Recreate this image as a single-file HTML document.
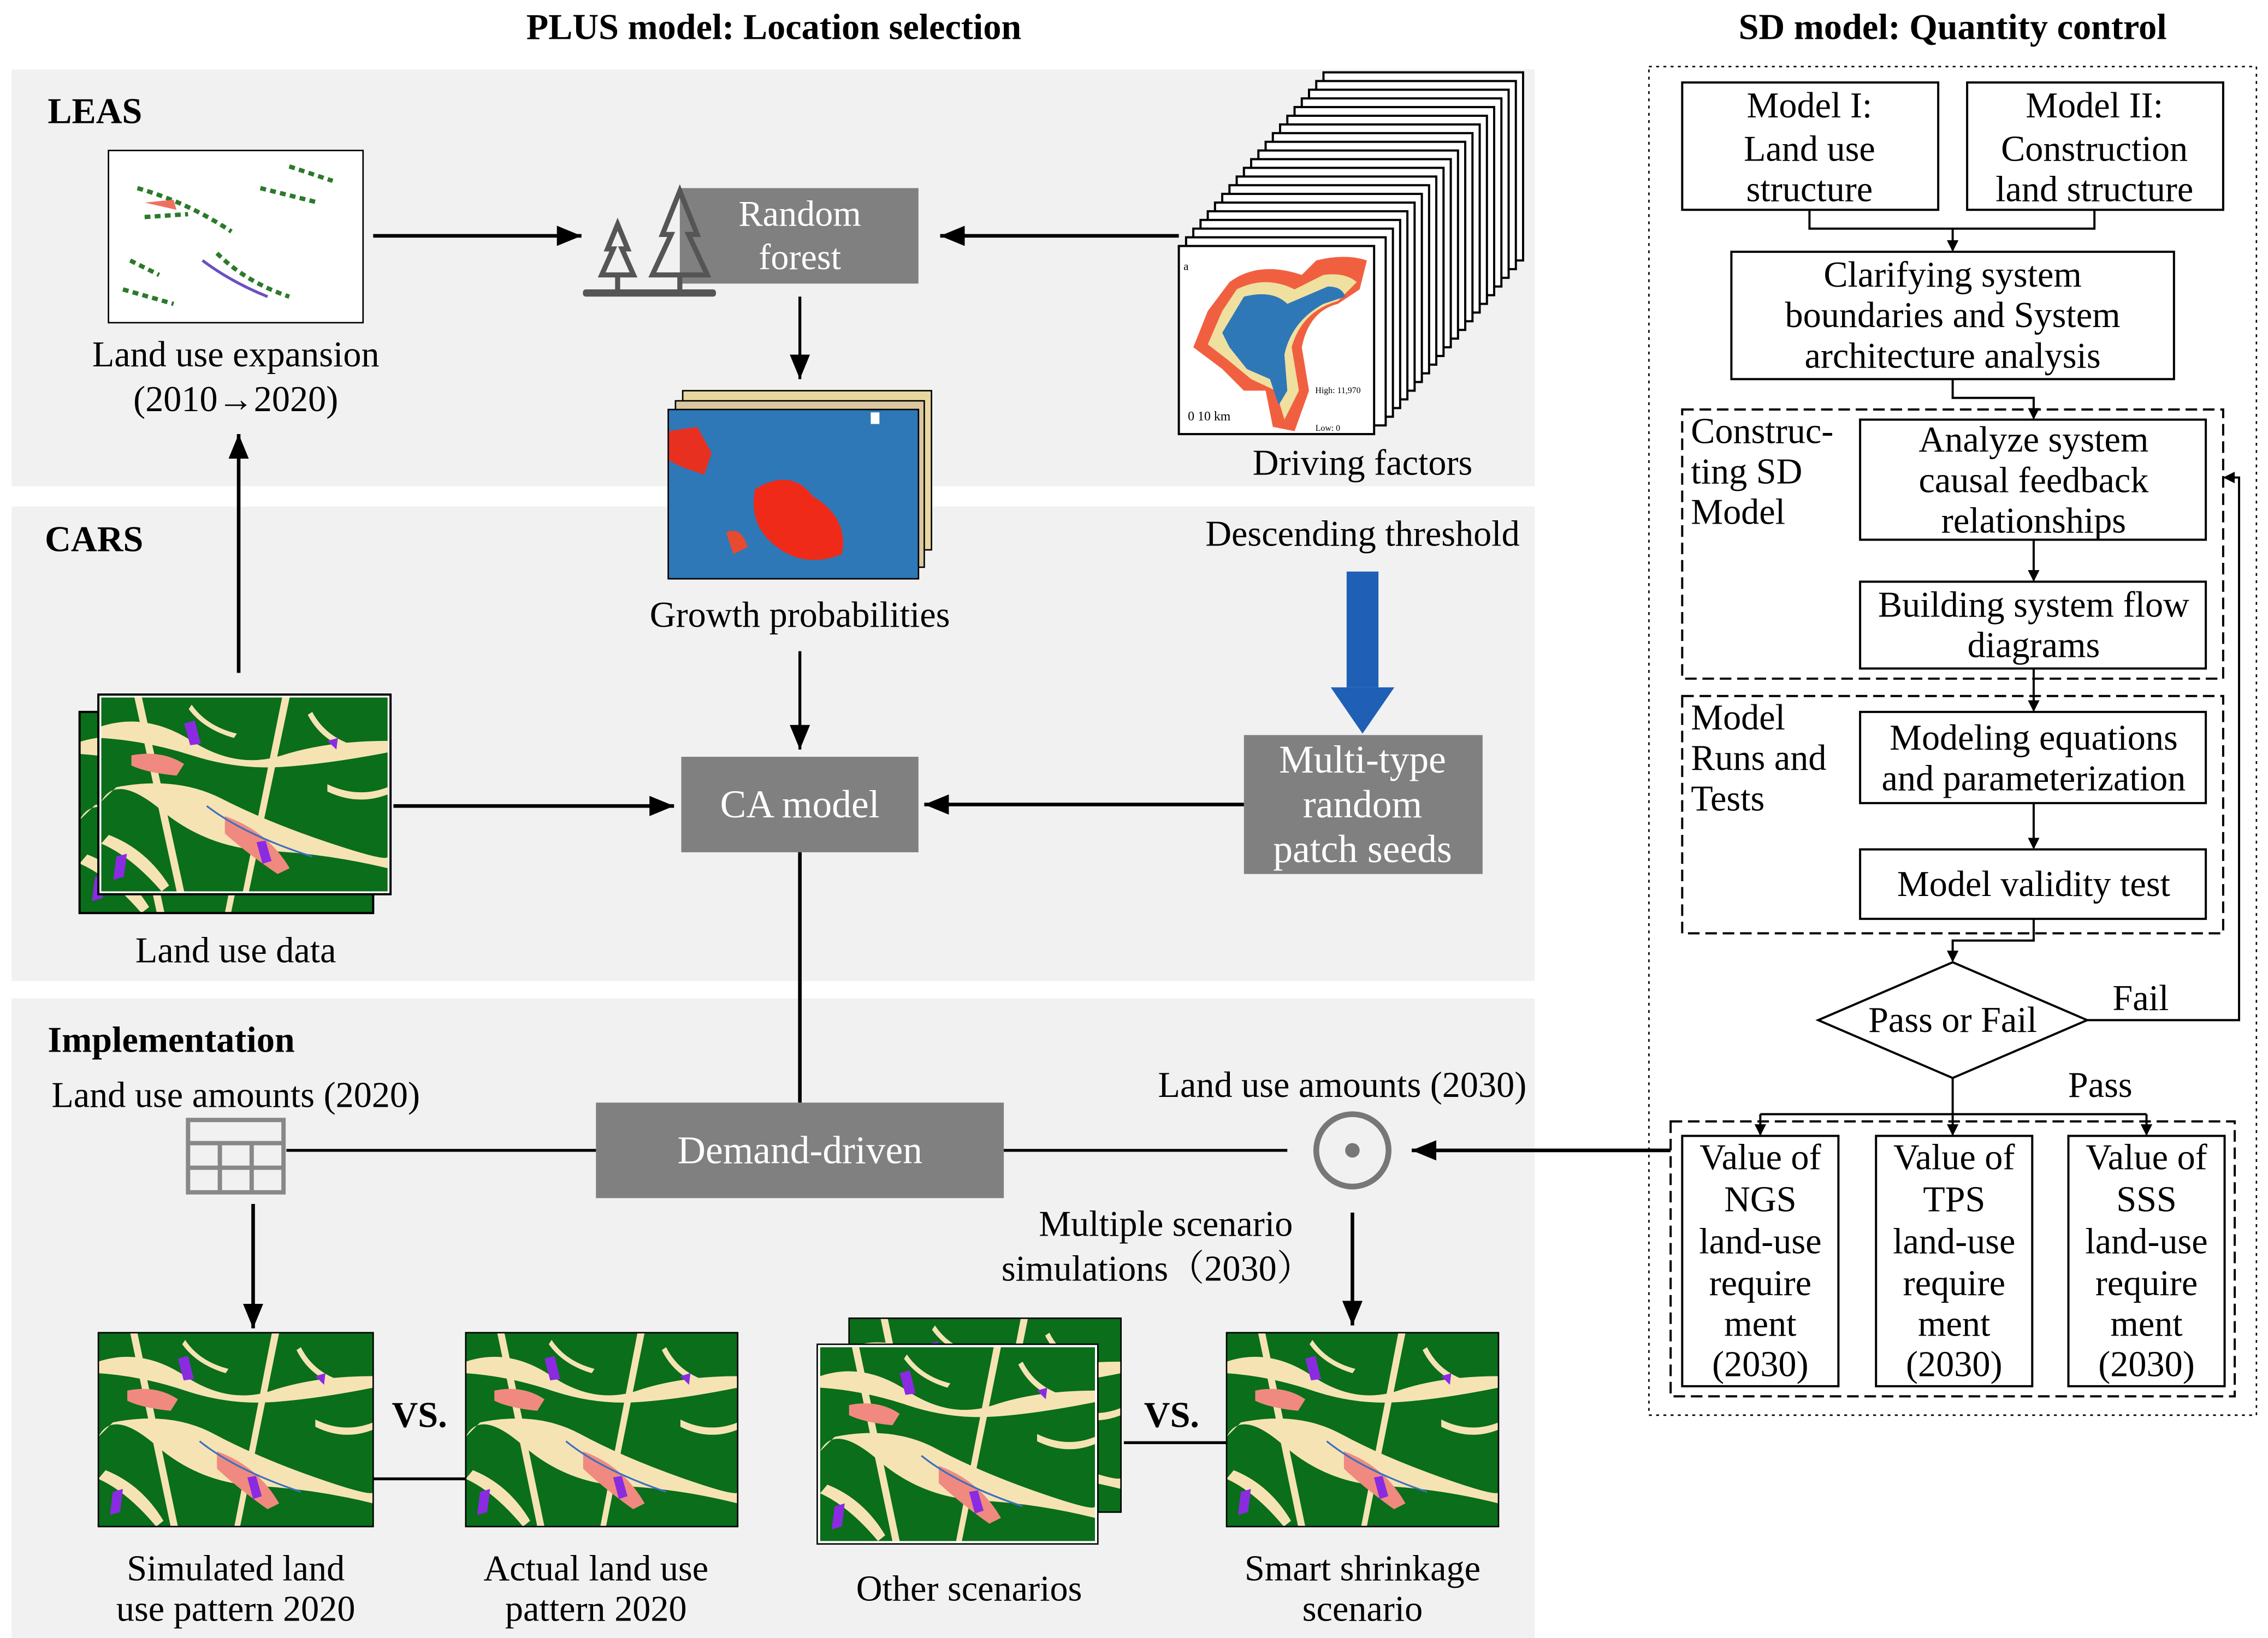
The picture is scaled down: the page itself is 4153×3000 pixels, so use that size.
<!DOCTYPE html>
<html><head><meta charset="utf-8"><style>html,body{margin:0;padding:0;background:#fff}svg{display:block}svg text{font-family:"Liberation Serif","Noto Serif CJK SC",serif}</style></head>
<body>
<svg xmlns="http://www.w3.org/2000/svg" width="4153" height="3000" viewBox="0 0 1568 1132" preserveAspectRatio="none">
<defs>
<marker id="ah" markerWidth="8" markerHeight="8" refX="7" refY="4" orient="auto" markerUnits="userSpaceOnUse"><path d="M0,0 L8,4 L0,8z" fill="#000"/></marker>
<marker id="ab" markerWidth="18" markerHeight="18" refX="17" refY="9" orient="auto" markerUnits="userSpaceOnUse"><path d="M0,2 L17,9 L0,16z" fill="#000"/></marker>
<symbol id="map" viewBox="0 0 190 134" preserveAspectRatio="none">
<rect width="190" height="134" fill="#0a6e1a"/>
<path d="M0,20 Q30,10 60,30 T120,40 T190,30 L190,38 Q150,46 120,48 T60,40 T0,28z" fill="#f6e3b4"/>
<path d="M10,62 Q50,54 80,70 T150,100 T190,110 L190,118 Q150,108 110,106 T40,78 T0,72z" fill="#f6e3b4"/>
<path d="M22,0 L27,0 L55,134 L50,134z" fill="#f6e3b4"/>
<path d="M120,0 L125,0 L98,134 L94,134z" fill="#f6e3b4"/>
<path d="M150,60 Q170,70 190,62 L190,67 Q170,75 150,65z" fill="#f6e3b4"/>
<path d="M5,95 Q30,105 45,130 L40,134 Q20,110 0,101z" fill="#f6e3b4"/>
<path d="M60,5 Q70,20 90,25 L88,28 Q68,22 58,8z" fill="#f6e3b4"/>
<path d="M140,10 Q150,30 175,35 L174,38 Q148,34 137,12z" fill="#f6e3b4"/>
<path d="M20,40 Q40,36 55,46 L50,54 Q30,52 20,47z" fill="#f08a80"/>
<path d="M82,82 Q110,92 125,118 L117,122 Q97,108 82,94z" fill="#f08a80"/>
<path d="M55,18 L62,16 L66,32 L59,33z" fill="#8a2be2"/>
<path d="M103,100 L109,99 L113,113 L107,115z" fill="#8a2be2"/>
<path d="M10,110 L17,108 L15,124 L8,126z" fill="#8a2be2"/>
<path d="M150,30 L157,28 L156,36z" fill="#8a2be2"/>
<path d="M70,75 Q95,95 140,110" stroke="#3a70c0" stroke-width="1.2" fill="none"/>
</symbol>
<symbol id="prob" viewBox="0 0 173 117" preserveAspectRatio="none">
<rect width="173" height="117" fill="#2f78b7"/>
<path d="M0,15 L20,12 L30,30 L25,45 L10,40 L0,35z" fill="#e83020"/>
<path d="M60,55 Q85,40 100,60 Q125,75 120,100 Q95,110 75,95 Q55,80 60,55z" fill="#f02a18"/>
<path d="M40,85 Q50,80 55,95 L45,100z" fill="#e84a30"/>
<rect x="140" y="2" width="6" height="8" fill="#fff"/>
</symbol>
</defs>

<text x="535" y="27" font-size="25" font-weight="bold" text-anchor="middle">PLUS model: Location selection</text>
<text x="1350" y="27" font-size="25" font-weight="bold" text-anchor="middle">SD model: Quantity control</text>

<rect x="8" y="48" width="1053" height="288" fill="#f1f1f1"/>
<rect x="8" y="350" width="1053" height="328" fill="#f1f1f1"/>
<rect x="8" y="690" width="1053" height="442" fill="#f1f1f1"/>
<text x="33" y="85" font-size="25" font-weight="bold">LEAS</text>
<text x="31" y="381" font-size="25" font-weight="bold">CARS</text>
<text x="33" y="727" font-size="25" font-weight="bold">Implementation</text>

<g font-size="25" text-anchor="middle" dominant-baseline="central">
<rect x="75" y="104" width="176" height="119" fill="#fff" stroke="#000"/>
<path d="M95,130 Q130,140 160,160 M100,150 L130,148 M150,175 Q170,195 200,205 M180,130 L220,140 M90,180 L110,190 M200,115 L230,125 M85,200 L120,210" stroke="#2a7a2a" stroke-width="3" fill="none" stroke-dasharray="4 3"/>
<path d="M100,140 L120,138 L122,145z" fill="#f07060"/>
<path d="M140,180 Q160,195 185,205" stroke="#6a50c0" stroke-width="2" fill="none"/>
<text x="163" y="245">Land use expansion</text>
<text x="163" y="276">(2010→2020)</text>
<line x1="258" y1="163" x2="402" y2="163" stroke="#000" stroke-width="2.5" marker-end="url(#ab)"/>
<rect x="470" y="130" width="165" height="66" fill="#808080"/>
<text x="553" y="148" fill="#fff">Random</text>
<text x="553" y="178" fill="#fff">forest</text>
<g fill="none" stroke="#555" stroke-width="3.5">
<path d="M427,155 L420,172 L424,172 L416,190 L438,190 L430,172 L434,172z"/>
<line x1="427" y1="190" x2="427" y2="202"/>
<path d="M470,132 L458,162 L464,162 L451,190 L489,190 L476,162 L482,162z"/>
<line x1="470" y1="190" x2="470" y2="202"/>
</g>
<rect x="403" y="200" width="92" height="5" rx="2" fill="#555"/>
<line x1="815" y1="163" x2="650" y2="163" stroke="#000" stroke-width="2.5" marker-end="url(#ab)"/>
<g fill="#fff" stroke="#000" stroke-width="1.5">
<rect x="915" y="50" width="138" height="130"/><rect x="910" y="56" width="138" height="130"/><rect x="905" y="62" width="138" height="130"/><rect x="900" y="68" width="138" height="130"/><rect x="895" y="74" width="138" height="130"/><rect x="890" y="80" width="138" height="130"/><rect x="885" y="86" width="138" height="130"/><rect x="880" y="92" width="138" height="130"/><rect x="875" y="98" width="138" height="130"/><rect x="870" y="104" width="138" height="130"/><rect x="865" y="110" width="138" height="130"/><rect x="860" y="116" width="138" height="130"/><rect x="855" y="122" width="138" height="130"/><rect x="850" y="128" width="138" height="130"/><rect x="845" y="134" width="138" height="130"/><rect x="840" y="140" width="138" height="130"/><rect x="835" y="146" width="138" height="130"/><rect x="830" y="152" width="138" height="130"/><rect x="825" y="158" width="138" height="130"/><rect x="820" y="164" width="138" height="130"/>
<rect x="815" y="170" width="135" height="130"/>
</g>
<path d="M850,195 Q870,180 900,190 L910,180 Q930,175 945,180 L940,200 L925,210 Q905,215 900,240 L905,270 L895,298 L880,295 L875,270 L860,270 L845,255 L825,240 L835,215z" fill="#f06040"/>
<path d="M855,200 Q875,190 895,200 L915,190 Q930,188 938,195 L925,208 Q900,215 893,240 L898,270 L888,290 L882,270 L865,262 L848,248 L835,238 L845,215z" fill="#f0e0a0"/>
<path d="M860,205 Q880,200 890,210 L918,198 Q928,198 930,205 L915,210 Q893,222 888,245 L890,270 L884,280 L878,262 L862,255 L850,240 L845,230z" fill="#2f78b7"/>
<text x="820" y="184" font-size="8">a</text>
<text x="836" y="288" font-size="9">0 10 km</text>
<text x="925" y="270" font-size="6">High: 11,970</text>
<text x="918" y="296" font-size="6">Low: 0</text>
<text x="942" y="320">Driving factors</text>
<line x1="553" y1="205" x2="553" y2="262" stroke="#000" stroke-width="2" marker-end="url(#ab)"/>
<rect x="472" y="270" width="172" height="110" fill="#e8d8a0" stroke="#000"/>
<rect x="467" y="277" width="172" height="115" fill="#dcc8a0" stroke="#000"/>
<use href="#prob" x="462" y="283" width="173" height="117"/>
<rect x="462" y="283" width="173" height="117" fill="none" stroke="#000"/>
<text x="553" y="425">Growth probabilities</text>

<line x1="165" y1="465" x2="165" y2="300" stroke="#000" stroke-width="2.5" marker-end="url(#ab)"/>
<use href="#map" x="55" y="492" width="203" height="139"/>
<rect x="55" y="492" width="203" height="139" fill="none" stroke="#000" stroke-width="1.5"/>
<rect x="68" y="480" width="202" height="138" fill="#fff" stroke="#000" stroke-width="1.5"/>
<use href="#map" x="70" y="482" width="198" height="134"/>
<text x="163" y="657">Land use data</text>
<line x1="272" y1="557" x2="466" y2="557" stroke="#000" stroke-width="2.5" marker-end="url(#ab)"/>
<rect x="471" y="523" width="164" height="66" fill="#808080"/>
<text x="553" y="556" fill="#fff" font-size="27">CA model</text>
<line x1="553" y1="450" x2="553" y2="518" stroke="#000" stroke-width="2" marker-end="url(#ab)"/>
<text x="942" y="369">Descending threshold</text>
<rect x="931" y="395" width="22" height="80" fill="#1f5fb5"/>
<path d="M920,475 L964,475 L942,507z" fill="#1f5fb5"/>
<rect x="860" y="508" width="165" height="96" fill="#808080"/>
<text x="942" y="525" fill="#fff" font-size="27">Multi-type</text>
<text x="942" y="556" fill="#fff" font-size="27">random</text>
<text x="942" y="587" fill="#fff" font-size="27">patch seeds</text>
<line x1="860" y1="556" x2="639" y2="556" stroke="#000" stroke-width="2.5" marker-end="url(#ab)"/>

<line x1="553" y1="589" x2="553" y2="762" stroke="#000" stroke-width="2.5"/>
<rect x="412" y="762" width="282" height="66" fill="#808080"/>
<text x="553" y="795" fill="#fff" font-size="27">Demand-driven</text>
<line x1="198" y1="795" x2="412" y2="795" stroke="#000" stroke-width="2"/>
<line x1="694" y1="795" x2="890" y2="795" stroke="#000" stroke-width="2"/>
<circle cx="935" cy="795" r="25" fill="none" stroke="#777" stroke-width="4"/>
<circle cx="935" cy="795" r="5" fill="#777"/>
<line x1="1155" y1="795" x2="976" y2="795" stroke="#000" stroke-width="2.5" marker-end="url(#ab)"/>
<g fill="none" stroke="#888" stroke-width="3">
<rect x="130" y="774" width="66" height="50"/>
<line x1="130" y1="790" x2="196" y2="790"/><line x1="130" y1="807" x2="196" y2="807"/>
<line x1="152" y1="790" x2="152" y2="824"/><line x1="174" y1="790" x2="174" y2="824"/>
</g>
<text x="163" y="757">Land use amounts (2020)</text>
<text x="928" y="750">Land use amounts (2030)</text>
<text x="806" y="846">Multiple scenario</text>
<text x="800" y="877">simulations（2030）</text>
<line x1="175" y1="832" x2="175" y2="918" stroke="#000" stroke-width="2.5" marker-end="url(#ab)"/>
<line x1="935" y1="838" x2="935" y2="916" stroke="#000" stroke-width="2.5" marker-end="url(#ab)"/>
<use href="#map" x="68" y="921" width="190" height="134"/>
<rect x="68" y="921" width="190" height="134" fill="none" stroke="#000"/>
<use href="#map" x="322" y="921" width="188" height="134"/>
<rect x="322" y="921" width="188" height="134" fill="none" stroke="#000"/>
<line x1="258" y1="1022" x2="322" y2="1022" stroke="#000" stroke-width="2"/>
<text x="290" y="978" font-weight="bold">VS.</text>
<use href="#map" x="587" y="911" width="188" height="134"/>
<rect x="587" y="911" width="188" height="134" fill="none" stroke="#000"/>
<rect x="565" y="929" width="194" height="138" fill="#fff" stroke="#000"/>
<use href="#map" x="567" y="931" width="190" height="134"/>
<use href="#map" x="848" y="921" width="188" height="134"/>
<rect x="848" y="921" width="188" height="134" fill="none" stroke="#000"/>
<line x1="777" y1="997" x2="848" y2="997" stroke="#000" stroke-width="2"/>
<text x="810" y="978" font-weight="bold">VS.</text>
<text x="163" y="1084">Simulated land</text>
<text x="163" y="1112">use pattern 2020</text>
<text x="412" y="1084">Actual land use</text>
<text x="412" y="1112">pattern 2020</text>
<text x="670" y="1098">Other scenarios</text>
<text x="942" y="1084">Smart shrinkage</text>
<text x="942" y="1112">scenario</text>

<rect x="1140" y="46" width="420" height="932" fill="none" stroke="#000" stroke-dasharray="2 3"/>
<g fill="#fff" stroke="#000" stroke-width="1.5">
<rect x="1163" y="57" width="177" height="88"/><rect x="1360" y="57" width="177" height="88"/>
<rect x="1197" y="174" width="306" height="88"/>
<rect x="1286" y="290" width="239" height="83"/><rect x="1286" y="402" width="239" height="60"/>
<rect x="1286" y="492" width="239" height="63"/><rect x="1286" y="587" width="239" height="48"/>
<rect x="1163" y="785" width="108" height="173"/><rect x="1297" y="785" width="108" height="173"/><rect x="1430" y="785" width="108" height="173"/>
</g>
<g fill="none" stroke="#000" stroke-width="1.5" stroke-dasharray="8 4">
<rect x="1163" y="283" width="374" height="186"/>
<rect x="1163" y="481" width="374" height="164"/>
<rect x="1155" y="775" width="390" height="190"/>
</g>
<g fill="none" stroke="#000" stroke-width="1.5">
<path d="M1251,145 V158 H1448 V145"/>
<line x1="1350" y1="158" x2="1350" y2="173" marker-end="url(#ah)"/>
<path d="M1350,262 V275 H1406 V289" marker-end="url(#ah)"/>
<line x1="1406" y1="373" x2="1406" y2="401" marker-end="url(#ah)"/>
<line x1="1406" y1="462" x2="1406" y2="491" marker-end="url(#ah)"/>
<line x1="1406" y1="555" x2="1406" y2="586" marker-end="url(#ah)"/>
<path d="M1406,635 V650 H1350 V664" marker-end="url(#ah)"/>
<path d="M1350,665 L1443,705 L1350,745 L1257,705z" fill="#fff"/>
<path d="M1443,705 H1548 V330 H1538" marker-end="url(#ah)"/>
<path d="M1350,745 V770"/>
<line x1="1217" y1="770" x2="1484" y2="770"/>
<line x1="1217" y1="770" x2="1217" y2="784" marker-end="url(#ah)"/>
<line x1="1350" y1="770" x2="1350" y2="784" marker-end="url(#ah)"/>
<line x1="1484" y1="770" x2="1484" y2="784" marker-end="url(#ah)"/>
</g>
<text x="1251" y="73">Model I:</text><text x="1251" y="103">Land use</text><text x="1251" y="131">structure</text>
<text x="1448" y="73">Model II:</text><text x="1448" y="103">Construction</text><text x="1448" y="131">land structure</text>
<text x="1350" y="190">Clarifying system</text><text x="1350" y="218">boundaries and System</text><text x="1350" y="246">architecture analysis</text>
<g text-anchor="start"><text x="1169" y="298">Construc-</text><text x="1169" y="326">ting SD</text><text x="1169" y="354">Model</text>
<text x="1169" y="496">Model</text><text x="1169" y="524">Runs and</text><text x="1169" y="552">Tests</text></g>
<text x="1406" y="304">Analyze system</text><text x="1406" y="332">causal feedback</text><text x="1406" y="360">relationships</text>
<text x="1406" y="418">Building system flow</text><text x="1406" y="446">diagrams</text>
<text x="1406" y="510">Modeling equations</text><text x="1406" y="538">and parameterization</text>
<text x="1406" y="611">Model validity test</text>
<text x="1350" y="705">Pass or Fail</text>
<text x="1480" y="690">Fail</text>
<text x="1452" y="750">Pass</text>
<text x="1217" y="800">Value of</text><text x="1217" y="829">NGS</text><text x="1217" y="858">land-use</text><text x="1217" y="887">require</text><text x="1217" y="915">ment</text><text x="1217" y="943">(2030)</text>
<text x="1351" y="800">Value of</text><text x="1351" y="829">TPS</text><text x="1351" y="858">land-use</text><text x="1351" y="887">require</text><text x="1351" y="915">ment</text><text x="1351" y="943">(2030)</text>
<text x="1484" y="800">Value of</text><text x="1484" y="829">SSS</text><text x="1484" y="858">land-use</text><text x="1484" y="887">require</text><text x="1484" y="915">ment</text><text x="1484" y="943">(2030)</text>
</g>
</svg>
</body></html>
